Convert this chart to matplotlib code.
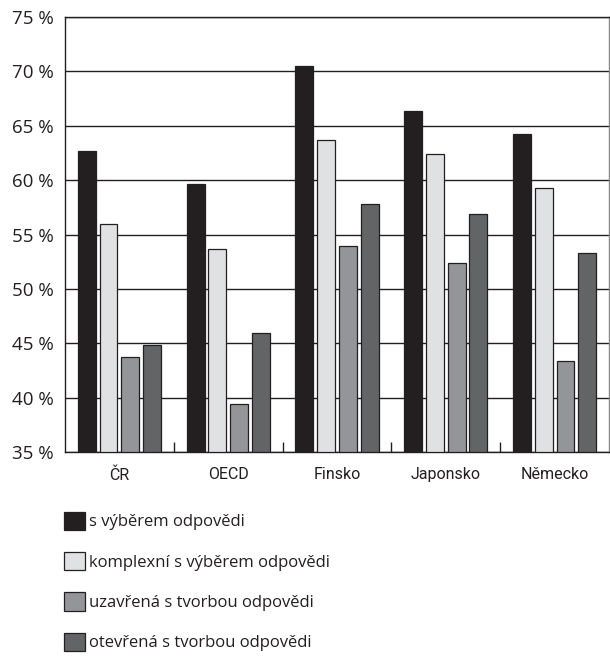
import numpy as np
import matplotlib.pyplot as plt
from matplotlib.ticker import FuncFormatter

countries = ["ČR", "OECD", "Finsko", "Japonsko", "Německo"]
series_names = [
    "s výběrem odpovědi",
    "komplexní s výběrem odpovědi",
    "uzavřená s tvorbou odpovědi",
    "otevřená s tvorbou odpovědi",
]
vyber = [62.7, 59.6, 70.5, 66.4, 64.2]
komplexni = [56.0, 53.7, 63.7, 62.4, 59.3]
uzavrena = [43.7, 39.4, 53.9, 52.4, 43.4]
otevrena = [44.8, 45.9, 57.8, 56.9, 53.3]
colors = ["#231f20", "#e0e1e3", "#939598", "#636466"]

plt.rcParams['font.family'] = ['Open Sans', 'DejaVu Sans']

fig = plt.figure(figsize=(6.1, 6.57), dpi=100)
ax = fig.add_axes([65 / 610, 205 / 657, 544 / 610, 435 / 657])

x = np.arange(len(countries))
pitch = 0.2
width = 0.165
for i, (vals, col, name) in enumerate(zip([vyber, komplexni, uzavrena, otevrena], colors, series_names)):
    ax.bar(x + (i - 1.5) * pitch, np.array(vals) - 35, bottom=35, width=width,
           color=col, edgecolor="#231f20", linewidth=0.9, label=name, zorder=3)

ax.set_ylim(35, 75)
ax.set_xlim(-0.5, len(countries) - 0.5)
ax.set_yticks(range(35, 76, 5))
ax.yaxis.set_major_formatter(FuncFormatter(lambda v, p: f"{int(v)} %"))
ax.grid(axis="y", color="#231f20", linewidth=1.0, zorder=0)
ax.tick_params(axis="y", length=0, labelsize=13.5, pad=8, labelcolor="#231f20")

# group separators as minor ticks, pointing up
ax.set_xticks(x)
ax.set_xticklabels(countries, family=['Roboto', 'DejaVu Sans'], fontsize=11.5)
ax.set_xticks(np.arange(0.5, len(countries) - 0.5, 1), minor=True)
ax.tick_params(axis="x", which="major", length=0, pad=11, labelcolor="#231f20")
ax.tick_params(axis="x", which="minor", direction="in", length=7, width=1, color="#231f20")

for s in ax.spines.values():
    s.set_color("#231f20")
    s.set_linewidth(1.0)
ax.spines["right"].set_color("#888888")

ax.legend(loc="upper left", bbox_to_anchor=(-0.015, -0.122), frameon=False,
          fontsize=12, handlelength=1.3, handleheight=1.3, handletextpad=0.2,
          labelspacing=1.3, borderaxespad=0, labelcolor="#231f20")

fig.savefig("out.png", dpi=100)
